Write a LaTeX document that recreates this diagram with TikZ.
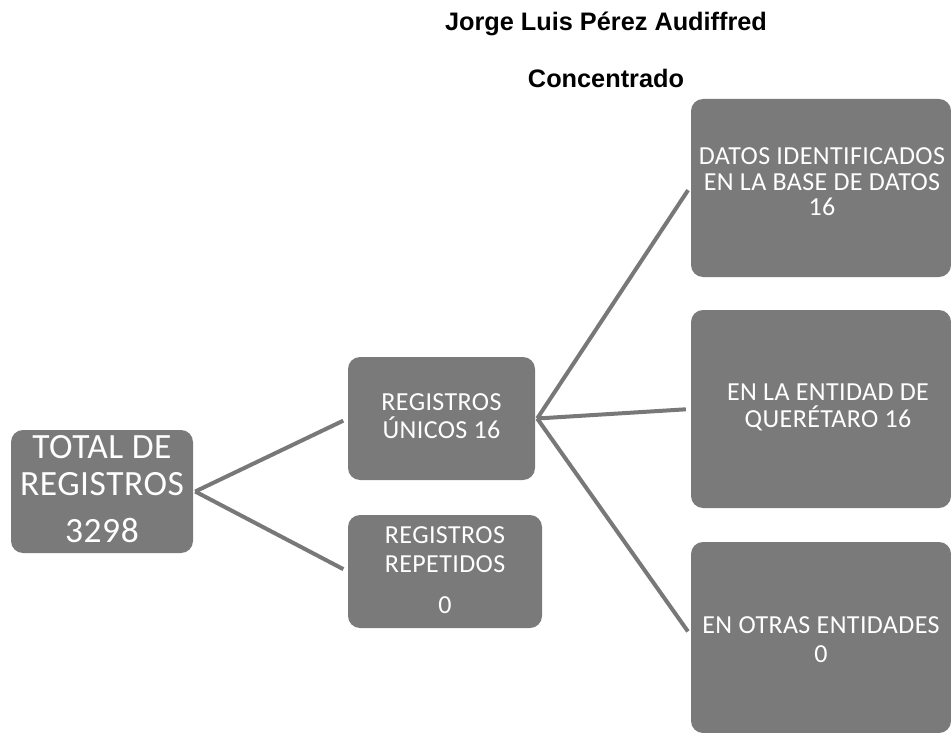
\documentclass[tikz,border=0pt]{standalone}
\usepackage{fontspec}
\setmainfont{Carlito}
\newfontfamily\boxfont[LetterSpace=1.5]{Carlito}
\newfontfamily\titlefont{Liberation Sans}
\definecolor{boxgray}{RGB}{122,122,122}
\definecolor{linegray}{RGB}{120,120,120}
\tikzset{
  box/.style={draw=none, fill=boxgray, rounded corners=12pt, inner sep=0pt},
  txt/.style={anchor=base, text=white, inner sep=0pt, font=\boxfont\fontsize{26}{30}\selectfont},
  bigtxt/.style={anchor=base, text=white, inner sep=0pt, font=\boxfont\fontsize{35.5}{40}\selectfont},
  ttl/.style={anchor=base, text=black, inner sep=0pt, font=\titlefont\bfseries\fontsize{25.3}{28}\selectfont},
  conn/.style={draw=linegray, line width=4pt, shorten >=5pt}
}
\begin{document}
\begin{tikzpicture}[x=1pt,y=-1pt]
\useasboundingbox (0,0) rectangle (951,733);
% titles
\node[ttl] (t1) at (606,31) {Jorge Luis Pérez Audiffred};
\node[ttl] (t2) at (606,88) {Concentrado};
% boxes
\node[box, minimum width=182pt, minimum height=123pt] (tot) at (102,491.5) {};
\node[box, minimum width=187pt, minimum height=123pt] (uni) at (441.5,418.5) {};
\node[box, minimum width=194pt, minimum height=113pt] (rep) at (445,571.5) {};
\node[box, minimum width=260pt, minimum height=178pt] (dat) at (821,188) {};
\node[box, minimum width=260pt, minimum height=198pt] (ent) at (821,409) {};
\node[box, minimum width=260pt, minimum height=191pt] (otr) at (821,637.5) {};
% texts
\node[bigtxt] (tota) at (102,458) {TOTAL DE};
\node[bigtxt] (totb) at (102,495) {REGISTROS};
\node[bigtxt] (totc) at (102,542) {3298};
\node[txt] (unia) at (441.5,410) {REGISTROS};
\node[txt] (unib) at (441.5,438) {ÚNICOS 16};
\node[txt] (repa) at (445,543) {REGISTROS};
\node[txt] (repb) at (445,572) {REPETIDOS};
\node[txt] (repc) at (445,613) {0};
\node[txt] (data) at (822,165) {DATOS IDENTIFICADOS};
\node[txt] (datb) at (822,190) {EN LA BASE DE DATOS};
\node[txt] (datc) at (822,215) {16};
\node[txt] (enta) at (828,400) {EN LA ENTIDAD DE};
\node[txt] (entb) at (828,427) {QUERÉTARO 16};
\node[txt] (otra) at (821,633) {EN OTRAS ENTIDADES};
\node[txt] (otrb) at (821,662) {0};
% connectors
\coordinate (j1) at ([xshift=2pt]tot.east);
\coordinate (j2) at ([xshift=2pt]uni.east);
\draw[conn] (j1) -- (uni.west);
\draw[conn] (j1) -- (rep.west);
\draw[conn] (j2) -- ([yshift=2pt]dat.west);
\draw[conn] (j2) -- (ent.west);
\draw[conn] (j2) -- ([yshift=2pt]otr.west);
\end{tikzpicture}
\end{document}
